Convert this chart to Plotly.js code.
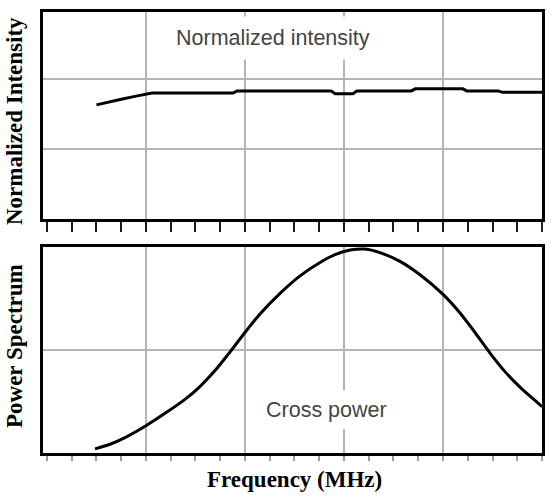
<!DOCTYPE html>
<html>
<head>
<meta charset="utf-8">
<script src="https://cdn.plot.ly/plotly-3.0.1.min.js"></script>
<style>html,body{margin:0;padding:0;background:#fff;}#chart{width:552px;height:498px;}</style>
</head>
<body>
<div id="chart"></div>
<script>
// Top panel: normalized intensity vs frequency (arbitrary grid units)
const intensityFreq = [0.5, 0.6, 0.75, 0.9, 1.02, 1.06, 1.88, 1.92, 2.87, 2.91, 3.09, 3.13, 3.68, 3.72, 4.2, 4.24, 4.56, 4.6, 5.0];
const intensityVals = [1.63, 1.665, 1.71, 1.755, 1.79, 1.80, 1.80, 1.83, 1.83, 1.79, 1.79, 1.83, 1.83, 1.86, 1.86, 1.83, 1.83, 1.81, 1.81];

// Bottom panel: cross power spectrum
const powerFreq = [0.485, 0.636, 0.788, 1.0, 1.192, 1.394, 1.545, 1.697, 1.848, 2.0, 2.152, 2.354, 2.556, 2.758, 2.909, 3.061, 3.212, 3.364, 3.566, 3.768, 4.0, 4.172, 4.323, 4.475, 4.626, 4.778, 4.929, 5.0];
const powerVals = [0.04, 0.085, 0.15, 0.265, 0.385, 0.52, 0.645, 0.80, 0.98, 1.17, 1.35, 1.55, 1.72, 1.85, 1.925, 1.97, 1.98, 1.945, 1.86, 1.73, 1.54, 1.36, 1.17, 0.97, 0.79, 0.64, 0.51, 0.45];

const gridTicks = [1, 2, 3, 4];
const topYTicks = [1, 2];
const bottomYTicks = [1];

const traces = [
  {x: intensityFreq, y: intensityVals, xaxis: 'x', yaxis: 'y', type: 'scatter', mode: 'lines',
   line: {color: '#000', width: 3}},
  {x: powerFreq, y: powerVals, xaxis: 'x2', yaxis: 'y2', type: 'scatter', mode: 'lines',
   line: {color: '#000', width: 3, shape: 'spline', smoothing: 1}},
  // empty trace that holds the thin tick strip under the top panel
  {x: [], y: [], xaxis: 'x3', yaxis: 'y3', type: 'scatter', mode: 'markers', marker: {opacity: 0}}
];

const axBase = {
  showline: true, linewidth: 3, linecolor: '#000', mirror: true,
  zeroline: false, showticklabels: false,
  showgrid: true, gridcolor: '#b5b5b5', gridwidth: 2
};

const layout = {
  width: 552, height: 498,
  margin: {l: 43, r: 10, t: 12, b: 45},
  showlegend: false,
  xaxis: Object.assign({}, axBase, {
    domain: [0, 1], anchor: 'y', range: [-0.04, 5.0],
    tickmode: 'array', tickvals: gridTicks,
    ticks: 'outside', ticklen: 10, tickwidth: 2, tickcolor: '#111',
    minor: {tickmode: 'linear', tick0: 0, dtick: 0.25, ticks: 'outside', ticklen: 10, tickwidth: 2, tickcolor: '#222', showgrid: false}
  }),
  yaxis: Object.assign({}, axBase, {
    domain: [0.5306, 1], anchor: 'x', range: [0, 2.957],
    tickvals: topYTicks, ticks: ''
  }),
  xaxis3: {
    domain: [0, 1], anchor: 'y3', range: [-0.04, 5.0],
    showline: false, showgrid: false, zeroline: false, showticklabels: false,
    tickmode: 'linear', tick0: 0, dtick: 0.25,
    ticks: 'inside', ticklen: 10, tickwidth: 2, tickcolor: '#1a1a1a'
  },
  yaxis3: {
    domain: [0.5011, 0.5306], anchor: 'x3', range: [0, 1],
    showline: false, showgrid: false, zeroline: false, showticklabels: false, ticks: ''
  },
  xaxis2: Object.assign({}, axBase, {
    domain: [0, 1], anchor: 'y2', range: [-0.04, 5.0],
    tickmode: 'array', tickvals: gridTicks,
    ticks: 'outside', ticklen: 5, tickwidth: 2, tickcolor: '#999',
    minor: {tickmode: 'linear', tick0: 0, dtick: 0.25, ticks: 'outside', ticklen: 5, tickwidth: 2, tickcolor: '#999', showgrid: false}
  }),
  yaxis2: Object.assign({}, axBase, {
    domain: [0, 0.4671], anchor: 'x2', range: [0, 2],
    tickvals: bottomYTicks, ticks: ''
  }),
  annotations: [
    {text: 'Normalized intensity', xref: 'paper', yref: 'paper', x: 0.461, y: 0.941,
     xanchor: 'center', yanchor: 'middle', showarrow: false, bgcolor: '#fff', borderpad: 9,
     font: {family: 'Liberation Sans, Arial, sans-serif', size: 21.5, color: '#444'}},
    {text: 'Cross power', xref: 'paper', yref: 'paper', x: 0.569, y: 0.0975,
     xanchor: 'center', yanchor: 'middle', showarrow: false, bgcolor: '#fff', borderpad: 7,
     font: {family: 'Liberation Sans, Arial, sans-serif', size: 21.5, color: '#444'}},
    {text: '<b>Normalized Intensity</b>', xref: 'paper', yref: 'paper', x: 0, y: 0.7528,
     xshift: -29, xanchor: 'center', yanchor: 'middle', textangle: -90, showarrow: false,
     font: {family: 'Liberation Serif, Times New Roman, serif', size: 23, color: '#000'}},
    {text: '<b>Power Spectrum</b>', xref: 'paper', yref: 'paper', x: 0, y: 0.2426,
     xshift: -29, xanchor: 'center', yanchor: 'middle', textangle: -90, showarrow: false,
     font: {family: 'Liberation Serif, Times New Roman, serif', size: 23, color: '#000'}},
    {text: '<b>Frequency (MHz)</b>', xref: 'paper', yref: 'paper', x: 0.505, y: -0.0612,
     xanchor: 'center', yanchor: 'middle', showarrow: false,
     font: {family: 'Liberation Serif, Times New Roman, serif', size: 23, color: '#000'}}
  ]
};

Plotly.newPlot('chart', traces, layout, {staticPlot: true});
</script>
</body>
</html>
